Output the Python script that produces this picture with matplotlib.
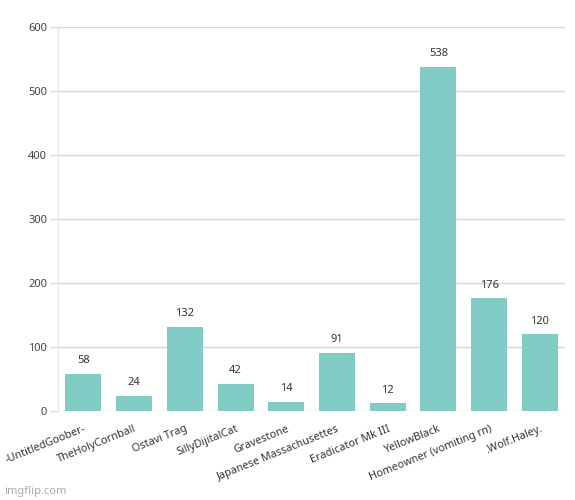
import matplotlib
matplotlib.use("Agg")
from matplotlib import pyplot as plt

names = ["-UntitledGoober-", "TheHolyCornball", "Ostavi Trag", "SillyDijitalCat",
         "Gravestone", "Japanese Massachusettes", "Eradicator Mk III", "YellowBlack",
         "Homeowner (vomiting rn)", ".Wolf.Haley."]
counts = [58, 24, 132, 42, 14, 91, 12, 538, 176, 120]
y_ticks = [0, 100, 200, 300, 400, 500, 600]

plt.rcParams["font.family"] = ["Noto Sans", "DejaVu Sans"]

fig = plt.figure(figsize=(5.75, 5), dpi=100)
ax = fig.add_axes([0.101, 0.178, 0.882, 0.768])

x = range(len(names))
ax.bar(x, counts, width=0.71, color="#80cbc4", zorder=2)
for i, v in zip(x, counts):
    ax.text(i, v + 12, str(v), ha="center", va="bottom", fontsize=8, color="#333333")

ax.set_xlim(-0.5, len(names) - 0.5)
ax.set_ylim(0, 600)
ax.set_yticks(y_ticks)
ax.set_yticklabels([str(t) for t in y_ticks], fontsize=8, color="#444444")
ax.yaxis.grid(True, color="#d6d6d6", linewidth=1, zorder=0)
ax.tick_params(axis="y", length=6, color="#d6d6d6", pad=2)
ax.set_xticks(list(x))
ax.set_xticklabels(names, rotation=22, ha="right", rotation_mode="anchor",
                   fontsize=7.8, color="#333333")
ax.tick_params(axis="x", length=0, pad=9)

for side in ["top", "right", "bottom"]:
    ax.spines[side].set_visible(False)
ax.spines["left"].set_color("#e6e6e6")

fig.text(0.008, 0.012, "imgflip.com", fontsize=8, color="#aaaaaa")

fig.savefig("out.png", dpi=100)
